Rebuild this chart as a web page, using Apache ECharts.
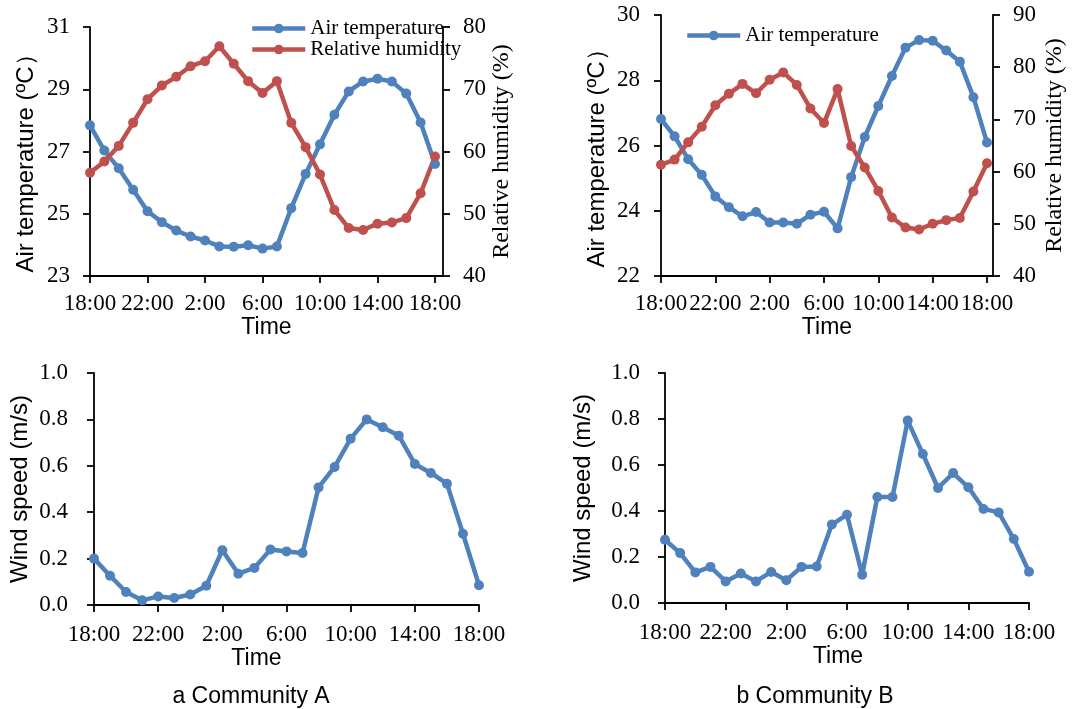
<!DOCTYPE html>
<html>
<head>
<meta charset="utf-8">
<script src="https://cdn.jsdelivr.net/npm/echarts@6/dist/echarts.min.js"></script>
<style>
html,body{margin:0;padding:0;background:#fff;}
#chart{width:1086px;height:709px;}
</style>
</head>
<body>
<div id="chart"></div>
<script>
// ---- data ----
const hours = ['18:00','19:00','20:00','21:00','22:00','23:00','0:00','1:00','2:00','3:00','4:00','5:00','6:00','7:00','8:00','9:00','10:00','11:00','12:00','13:00','14:00','15:00','16:00','17:00','18:00'];
const tickLabels = ['18:00','22:00','2:00','6:00','10:00','14:00','18:00'];
const tickIndex = [0,4,8,12,16,20,24];

const tempA = [27.84,27.03,26.46,25.77,25.08,24.73,24.46,24.27,24.14,23.95,23.94,23.99,23.88,23.95,25.18,26.28,27.23,28.18,28.93,29.25,29.34,29.25,28.86,27.93,26.60];
const rhA   = [56.6,58.4,60.9,64.6,68.4,70.6,72.0,73.7,74.5,76.9,74.1,71.3,69.4,71.3,64.6,60.7,56.3,50.6,47.7,47.4,48.4,48.6,49.3,53.3,59.2];
const tempB = [26.81,26.28,25.58,25.10,24.44,24.11,23.83,23.96,23.64,23.64,23.60,23.88,23.97,23.46,25.03,26.26,27.21,28.13,29.00,29.23,29.21,28.91,28.57,27.48,26.09];
const rhB   = [61.3,62.3,65.6,68.6,72.7,74.9,76.8,75.0,77.6,79.0,76.6,72.1,69.3,75.8,64.9,60.8,56.3,51.2,49.3,48.9,50.0,50.7,51.1,56.2,61.6];
const windA = [0.200,0.126,0.056,0.020,0.037,0.030,0.045,0.083,0.236,0.135,0.160,0.239,0.231,0.224,0.507,0.595,0.717,0.800,0.766,0.730,0.608,0.569,0.523,0.307,0.085];
const windB = [0.275,0.217,0.133,0.157,0.094,0.128,0.094,0.135,0.099,0.157,0.159,0.341,0.384,0.123,0.461,0.461,0.793,0.648,0.500,0.565,0.503,0.409,0.394,0.278,0.136];

const captions = ['a Community A','b Community B'];

// ---- styles ----
const SERIF = "'Liberation Serif','Times New Roman',serif";
const SANS = "'Liberation Sans',Arial,sans-serif";
const BLUE = '#4F81BD';
const RED = '#C0504D';
const axisLine = {show:true, lineStyle:{color:'#000', width:1.8}};
const axisTick = {show:true, length:7, lineStyle:{color:'#000', width:1.8}};

function pairs(arr){ return arr.map((v,i)=>[i,v]); }

function xAxis(gi, max, labelMargin, nameGap, namePad){
  return {
    type:'value', gridIndex:gi, min:0, max:max, interval:4,
    axisLine:axisLine,
    axisTick:Object.assign({}, axisTick, {customValues:tickIndex}),
    splitLine:{show:false},
    axisLabel:{
      customValues:tickIndex, showMinLabel:true, showMaxLabel:true, hideOverlap:false,
      margin:labelMargin, color:'#000', fontFamily:SERIF, fontSize:23,
      formatter:function(v){ const k = tickIndex.indexOf(Math.round(v*1000)/1000); return k<0 ? '' : tickLabels[k]; }
    },
    name:'Time', nameLocation:'middle', nameGap:nameGap,
    nameTextStyle:{color:'#000', fontFamily:SANS, fontSize:23, padding:namePad||0}
  };
}
function yAxis(gi, pos, min, max, interval, name, nameGap, font, nameSize, labelMargin, dec, namePad){
  return {
    type:'value', gridIndex:gi, position:pos, min:min, max:max, interval:interval,
    axisLine:axisLine, axisTick:axisTick, splitLine:{show:false},
    axisLabel:{margin:labelMargin, color:'#000', fontFamily:SERIF, fontSize:23,
      showMinLabel:true, showMaxLabel:true,
      formatter:function(v){ return dec ? v.toFixed(dec) : String(v); }},
    name:name, nameLocation:'middle', nameGap:nameGap,
    nameTextStyle:{color:'#000', fontFamily:font, fontSize:nameSize, padding:namePad||0}
  };
}
function line(name, xi, yi, data, color){
  return {
    name:name, type:'line', xAxisIndex:xi, yAxisIndex:yi, data:pairs(data),
    symbol:'circle', symbolSize:10, showSymbol:true,
    lineStyle:{color:color, width:4.5}, itemStyle:{color:color},
    animation:false
  };
}
const legendBase = {orient:'vertical', padding:0, itemWidth:53, itemHeight:12, itemGap:0,
  lineStyle:{width:4.5}, selectedMode:false,
  textStyle:{fontFamily:SERIF, fontSize:21, color:'#000', lineHeight:21}};

const option = {
  backgroundColor:'#fff',
  animation:false,
  grid:[
    {left:90, top:27, width:353, height:249},
    {left:661, top:15, width:332, height:261},
    {left:94, top:373, width:385, height:232},
    {left:665, top:373, width:364, height:230}
  ],
  legend:[
    Object.assign({}, legendBase, {data:['Air temperature','Relative humidity'], left:250, top:18}),
    Object.assign({}, legendBase, {data:['Air temperature'], left:685, top:25})
  ],
  xAxis:[
    xAxis(0, 24*353/345, 16, 36),
    xAxis(1, 24*332/326, 16, 36),
    xAxis(2, 24, 18, 38, [0,60,0,0]),
    xAxis(3, 24, 18, 38, [0,18,0,0])
  ],
  yAxis:[
    yAxis(0,'left',23,31,2,'Air temperature (ºC）',52,SANS,24,20,0,[0,12,0,0]),
    yAxis(0,'right',40,80,10,'Relative humidity (%)',46,SERIF,24,20,0),
    yAxis(1,'left',22,30,2,'Air temperature (ºC）',52,SANS,24,21,0,[0,14,0,0]),
    yAxis(1,'right',40,90,10,'Relative humidity (%)',50,SERIF,24,20,0),
    yAxis(2,'left',0,1,0.2,'Wind speed (m/s)',62,SANS,24,26,1),
    yAxis(3,'left',0,1,0.2,'Wind speed (m/s)',70,SANS,24,25,1)
  ],
  series:[
    line('Air temperature',0,0,tempA,BLUE),
    line('Relative humidity',0,1,rhA,RED),
    line('Air temperature',1,2,tempB,BLUE),
    line('Relative humidity',1,3,rhB,RED),
    line('Wind speed A',2,4,windA,BLUE),
    line('Wind speed B',3,5,windB,BLUE)
  ],
  graphic:[
    {type:'text', x:251, y:697, style:{text:captions[0], fontFamily:SANS, fontSize:23, fill:'#000', align:'center', verticalAlign:'middle'}},
    {type:'text', x:815, y:697, style:{text:captions[1], fontFamily:SANS, fontSize:23, fill:'#000', align:'center', verticalAlign:'middle'}}
  ]
};

const chart = echarts.init(document.getElementById('chart'), null, {renderer:'canvas'});
chart.setOption(option);
</script>
</body>
</html>
